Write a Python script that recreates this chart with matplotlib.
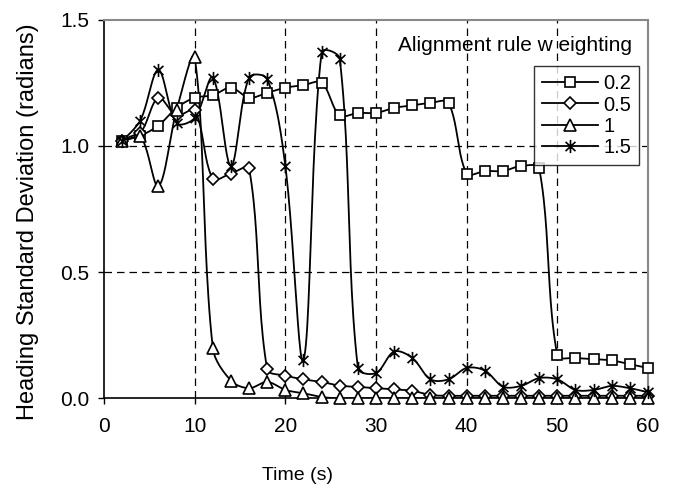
import numpy as np
import matplotlib
matplotlib.use("Agg")
import matplotlib.pyplot as plt
from matplotlib.path import Path
from matplotlib.lines import Line2D

plt.rcParams['font.family'] = ['Liberation Sans', 'DejaVu Sans']

time_s = [2, 4, 6, 8, 10, 12, 14, 16, 18, 20, 22, 24, 26, 28, 30,
          32, 34, 36, 38, 40, 42, 44, 46, 48, 50, 52, 54, 56, 58, 60]

w_02 = [1.02, 1.04, 1.08, 1.15, 1.19, 1.20, 1.23, 1.19, 1.21, 1.23, 1.24, 1.25, 1.12, 1.13, 1.13,
        1.15, 1.16, 1.17, 1.17, 0.89, 0.90, 0.90, 0.92, 0.91, 0.17, 0.16, 0.155, 0.15, 0.135, 0.12]
w_05 = [1.02, 1.05, 1.19, 1.12, 1.14, 0.87, 0.89, 0.91, 0.115, 0.09, 0.075, 0.065, 0.05, 0.045, 0.04,
        0.035, 0.03, 0.013, 0.01, 0.01, 0.01, 0.01, 0.01, 0.01, 0.01, 0.01, 0.01, 0.01, 0.01, 0.01]
w_1 = [1.02, 1.04, 0.84, 1.14, 1.35, 0.20, 0.07, 0.04, 0.065, 0.033, 0.02, 0.005, 0.0, 0.0, 0.0,
       0.0, 0.0, 0.0, 0.0, 0.0, 0.0, 0.0, 0.0, 0.0, 0.0, 0.0, 0.0, 0.0, 0.0, 0.0]
w_15 = [1.02, 1.10, 1.30, 1.09, 1.11, 1.27, 0.92, 1.27, 1.265, 0.92, 0.15, 1.37, 1.345, 0.12, 0.10,
        0.185, 0.16, 0.075, 0.075, 0.12, 0.11, 0.046, 0.049, 0.08, 0.075, 0.033, 0.033, 0.049, 0.04, 0.024]

series_labels = ['0.2', '0.5', '1', '1.5']
series_values = [w_02, w_05, w_1, w_15]

x_ticks = [0, 10, 20, 30, 40, 50, 60]
y_ticks = [0.0, 0.5, 1.0, 1.5]
y_tick_labels = ['0.0', '0.5', '1.0', '1.5']

star = Path([(0, -1), (0, 1), (-0.75, -0.7), (0.75, 0.7), (-0.75, 0.7), (0.75, -0.7)],
            [Path.MOVETO, Path.LINETO, Path.MOVETO, Path.LINETO, Path.MOVETO, Path.LINETO])
markers = ['s', 'D', '^', star]
msizes = [7.5, 6.5, 8.5, 9.5]

fig = plt.figure(figsize=(6.79, 4.91), dpi=100)
ax = fig.add_axes([104 / 679, 1 - 398.3 / 491, 544 / 679, 378.8 / 491])
ax.set_xlim(0, 60)
ax.set_ylim(0, 1.5)


def smooth(x, y, n=24, f=1 / 3):
    """Excel-like smoothed line: chord-length scaled Bezier in display space."""
    pts = ax.transData.transform(np.column_stack([x, y]))
    m = len(pts)
    c_out = np.zeros_like(pts)
    c_in = np.zeros_like(pts)
    for i in range(m):
        if i == 0 or i == m - 1:
            c_out[i] = pts[i]
            c_in[i] = pts[i]
            continue
        d0 = np.hypot(*(pts[i] - pts[i - 1]))
        d1 = np.hypot(*(pts[i + 1] - pts[i]))
        tan = pts[i + 1] - pts[i - 1]
        s = d0 + d1 if d0 + d1 > 0 else 1
        c_out[i] = pts[i] + tan * d1 / s * f
        c_in[i] = pts[i] - tan * d0 / s * f
    segs = []
    for i in range(m - 1):
        t = np.linspace(0, 1, n, endpoint=(i == m - 2))[:, None]
        p1, c1, c2, p2 = pts[i], c_out[i], c_in[i + 1], pts[i + 1]
        segs.append((1 - t) ** 3 * p1 + 3 * (1 - t) ** 2 * t * c1 + 3 * (1 - t) * t ** 2 * c2 + t ** 3 * p2)
    curve = np.vstack(segs)
    data = ax.transData.inverted().transform(curve)
    return data[:, 0], data[:, 1]


handles = []
for lab, vals, mk, ms in zip(series_labels, series_values, markers, msizes):
    sx, sy = smooth(time_s, vals)
    ax.plot(sx, sy, color='black', lw=1.3, zorder=3)
    ax.plot(time_s, vals, linestyle='none', marker=mk, markersize=ms,
            markerfacecolor='white', markeredgecolor='black', markeredgewidth=1.2,
            zorder=4, clip_on=False)
    handles.append(Line2D([0], [0], color='black', lw=1.3, marker=mk, markersize=ms,
                          markerfacecolor='white', markeredgecolor='black', markeredgewidth=1.2))

ax.set_xticks(x_ticks)
ax.set_yticks(y_ticks)
ax.set_yticklabels(y_tick_labels)
ax.tick_params(axis='both', direction='out', length=4.3, width=1, labelsize=15, color='black')
ax.tick_params(axis='x', pad=9)
ax.tick_params(axis='y', pad=6.5)

for v in x_ticks[1:-1]:
    ax.axvline(v, color='black', lw=0.9, dashes=(6, 4), zorder=1)
for v in y_ticks[1:-1]:
    ax.axhline(v, color='black', lw=0.9, dashes=(6, 4), zorder=1)

ax.spines['left'].set_color('black')
ax.spines['bottom'].set_color('black')
ax.spines['left'].set_linewidth(1.2)
ax.spines['bottom'].set_linewidth(1.2)
ax.spines['top'].set_color('#888888')
ax.spines['right'].set_color('#888888')
ax.spines['top'].set_linewidth(1.5)
ax.spines['right'].set_linewidth(1.5)

ax.set_xlabel('Time (s)', fontsize=14)
ax.xaxis.set_label_coords(0.355, -0.182)
ax.set_ylabel('Heading Standard Deviation (radians)', fontsize=17)
ax.yaxis.set_label_coords(-0.119, 0.467)

ax.text(0.756, 0.931, 'Alignment rule w eighting', transform=ax.transAxes,
        ha='center', va='center', fontsize=15)

leg = ax.legend(handles, series_labels, loc='upper right', bbox_to_anchor=(0.983, 0.876),
                borderaxespad=0, fontsize=14.5, handlelength=2.8, labelspacing=0.12,
                handletextpad=0.25, borderpad=0.38, fancybox=False, frameon=True)
leg.get_frame().set_edgecolor('black')
leg.get_frame().set_linewidth(1.0)
leg.set_zorder(5)

fig.savefig('out.png', dpi=100)
